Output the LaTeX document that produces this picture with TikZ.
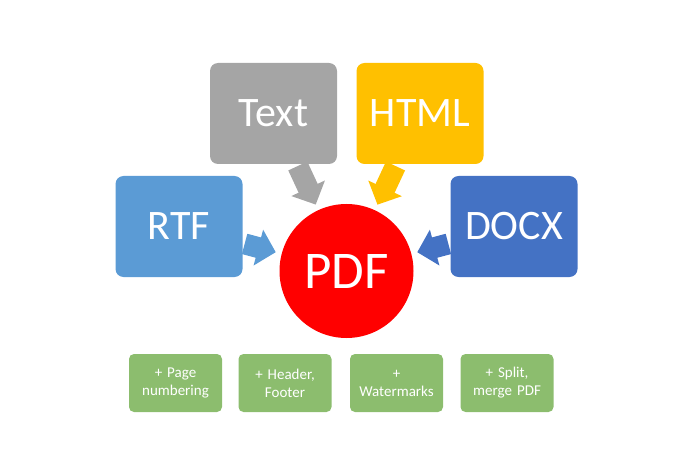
\documentclass[tikz,border=0pt]{standalone}
\usepackage{fontspec}
\setmainfont{Carlito}
\usetikzlibrary{arrows.meta}
\definecolor{textgray}{HTML}{A5A5A5}
\definecolor{htmlgold}{HTML}{FFC000}
\definecolor{rtfblue}{HTML}{5B9BD5}
\definecolor{docxblue}{HTML}{4472C4}
\definecolor{pdfred}{HTML}{FF0000}
\definecolor{extragreen}{HTML}{8CBD6E}
\tikzstyle{format}=[%
  rounded corners=8pt,
  minimum width=127pt,
  minimum height=101pt,
  inner sep=0pt,
  text=white,
  font=\fontsize{42}{50}\selectfont
]
\tikzstyle{feature}=[%
  fill=extragreen,
  rounded corners=5pt,
  minimum width=93pt,
  minimum height=58pt,
  inner sep=0pt,
  text width=90pt,
  align=center,
  text=white,
  font=\fontsize{15}{18}\selectfont
]
\tikzstyle{feed}=[%
  line width=21pt,
  -{Triangle[width=36pt,length=18pt]},
  shorten >=6pt,
  shorten <=2pt
]

\begin{document}
\begin{tikzpicture}[x=1pt,y=-1pt]
  \useasboundingbox (0,0) rectangle (680,465);
  \node[format, fill=textgray] (txt) at (273.5,113.5) {Text};
  \node[format, fill=htmlgold] (html) at (420,113.5) {HTML};
  \node[format, fill=rtfblue] (rtf) at (179,226.5) {RTF};
  \node[format, fill=docxblue] (docx) at (514,226.5) {DOCX};
  \node[circle, fill=pdfred, minimum size=134pt, inner sep=0pt, text=white,
        font=\fontsize{53}{60}\selectfont] (pdf) at (346.5,271) {PDF};
  \draw[feed, textgray] (txt) to (pdf);
  \draw[feed, htmlgold] (html) to (pdf);
  \draw[feed, rtfblue] (rtf) to (pdf);
  \draw[feed, docxblue] (docx) to (pdf);
  \foreach \name/\x/\label in {page/175.5/{+ Page\\numbering},
      header/285/{+ Header,\\Footer}, mark/396.5/{+\\Watermarks},
      split/507/{+ Split,\\merge PDF}} {%
    \node[feature] (\name) at (\x,383) {\label};
  }
\end{tikzpicture}
\end{document}
